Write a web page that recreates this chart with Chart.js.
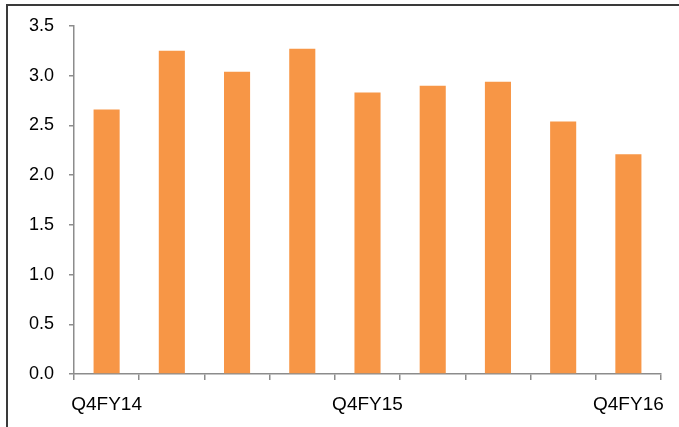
<!DOCTYPE html>
<html>
<head>
<meta charset="utf-8">
<script src="https://cdn.jsdelivr.net/npm/chart.js@4"></script>
<style>
  html, body { margin: 0; padding: 0; background: #fff; overflow: hidden; }
  #marco {
    position: absolute; left: 6px; top: 4px;
    width: 700px; height: 460px;
    border: 2px solid #3a3a3a; box-sizing: border-box;
  }
  #grafico { position: absolute; left: 0; top: 0; }
</style>
</head>
<body>
<div id="marco"></div>
<canvas id="grafico" width="679" height="427"></canvas>
<script>
const trimestres = ['Q4FY14', 'Q1FY15', 'Q2FY15', 'Q3FY15', 'Q4FY15', 'Q1FY16', 'Q2FY16', 'Q3FY16', 'Q4FY16'];
const valores = [2.66, 3.25, 3.04, 3.27, 2.83, 2.90, 2.94, 2.54, 2.21];
const etiquetasVisibles = ['Q4FY14', 'Q4FY15', 'Q4FY16'];
const ticksY = [0, 0.5, 1.0, 1.5, 2.0, 2.5, 3.0, 3.5];

const fuenteY = { family: 'Liberation Sans, Arial, sans-serif', size: 18 };
const fuenteX = { family: 'Liberation Sans, Arial, sans-serif', size: 19 };
const gris = '#8c8c8c';

new Chart(document.getElementById('grafico').getContext('2d'), {
    type: 'bar',
    data: {
        labels: trimestres,
        datasets: [{
            data: valores,
            backgroundColor: '#F79646',
            barPercentage: 0.4,
            categoryPercentage: 1.0
        }]
    },
    options: {
        responsive: false,
        animation: false,
        layout: { padding: { left: 0, right: 18, top: 26, bottom: 0 } },
        plugins: { legend: { display: false }, tooltip: { enabled: false } },
        scales: {
            x: {
                grid: { drawOnChartArea: false, drawTicks: true, tickLength: 6, color: gris, lineWidth: 1.5 },
                border: { color: gris, width: 1.5 },
                ticks: {
                    color: '#000', font: fuenteX, padding: 13,
                    autoSkip: false, maxRotation: 0,
                    callback: function (v, i) {
                        const t = trimestres[i];
                        return etiquetasVisibles.includes(t) ? t : '';
                    }
                },
                afterFit: function (escala) { escala.height = 53; }
            },
            y: {
                min: 0, max: 3.5,
                afterBuildTicks: function (escala) {
                    escala.ticks = ticksY.map(v => ({ value: v }));
                },
                grid: { drawOnChartArea: false, drawTicks: true, tickLength: 5, color: gris, lineWidth: 1.5 },
                border: { color: gris, width: 1.5 },
                ticks: {
                    color: '#000', font: fuenteY, padding: 15,
                    callback: v => v.toFixed(1)
                },
                afterFit: function (escala) { escala.width = 74; }
            }
        }
    }
});
</script>
</body>
</html>
